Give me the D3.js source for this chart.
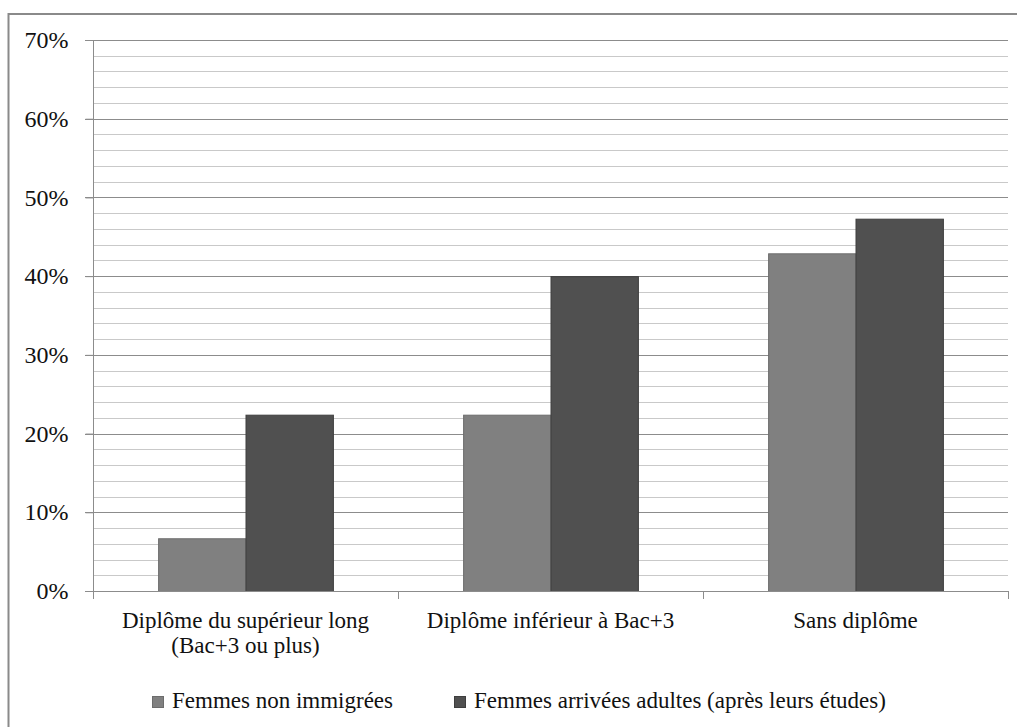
<!DOCTYPE html>
<html>
<head>
<meta charset="utf-8">
<script src="https://cdn.jsdelivr.net/npm/d3@7"></script>
</head>
<body style="margin:0">
<script>
// data
const categories = [
  ['Diplôme du supérieur long', '(Bac+3 ou plus)'],
  ['Diplôme inférieur à Bac+3'],
  ['Sans diplôme']
]
const seriesNames = ['Femmes non immigrées', 'Femmes arrivées adultes (après leurs études)']
const nonImmigrees = [6.7, 22.4, 42.9]
const arriveesAdultes = [22.4, 40.0, 47.3]
const yTicks = [0, 10, 20, 30, 40, 50, 60, 70]

// dimensions
const width = 1017
const height = 727
const plotLeft = 93
const plotRight = 1008
const plotTop = 40
const plotBottom = 591
const serifFont = '"Liberation Serif"'
const textColor = '#111'

const colors = ['#808080', '#505050']
const strokes = ['#6c6c6c', '#3e3e3e']

const svg = d3.select('body').append('svg')
  .attr('width', width)
  .attr('height', height)

// outer frame (runs off the right and bottom edges)
svg.append('rect')
  .attr('x', 8.5).attr('y', 14)
  .attr('width', 1040).attr('height', 740)
  .attr('fill', 'none')
  .attr('stroke', '#8a8a8a')
  .attr('stroke-width', 2)

// scales
const x0 = d3.scaleBand()
  .domain(d3.range(categories.length))
  .range([plotLeft, plotRight])
  .padding(0)

const x1 = d3.scaleBand()
  .domain(d3.range(seriesNames.length))
  .range([0, x0.bandwidth()])
  .paddingInner(0)
  .paddingOuter(0.745)

const y = d3.scaleLinear()
  .domain([0, 70])
  .range([plotBottom, plotTop])

// gridlines, minor then major
const minor = d3.range(2, 70, 2).filter(v => v % 10 !== 0)
svg.append('g').selectAll('line')
  .data(minor)
  .join('line')
  .attr('x1', plotLeft).attr('x2', plotRight)
  .attr('y1', d => Math.round(y(d)) + 0.5)
  .attr('y2', d => Math.round(y(d)) + 0.5)
  .attr('stroke', '#c9c9c9')

svg.append('g').selectAll('line')
  .data(yTicks.filter(d => d > 0))
  .join('line')
  .attr('x1', plotLeft - 8).attr('x2', plotRight)
  .attr('y1', d => Math.round(y(d)) + 0.5)
  .attr('y2', d => Math.round(y(d)) + 0.5)
  .attr('stroke', '#8c8c8c')

// bars
const rows = categories.map((c, i) => [nonImmigrees[i], arriveesAdultes[i]])

const groups = svg.append('g').selectAll('g')
  .data(rows)
  .join('g')
  .attr('transform', (d, i) => `translate(${x0(i)},0)`)

groups.selectAll('rect')
  .data(d => d)
  .join('rect')
  .attr('x', (d, j) => x1(j) + 0.5)
  .attr('y', d => y(d) + 0.5)
  .attr('width', x1.bandwidth())
  .attr('height', d => plotBottom - y(d))
  .attr('fill', (d, j) => colors[j])
  .attr('stroke', (d, j) => strokes[j])
  .attr('stroke-width', 1)

// axes
const yAxis = svg.append('g')
  .attr('transform', `translate(${plotLeft + 0.5},0)`)
  .call(d3.axisLeft(y).tickValues(yTicks).tickSize(8).tickPadding(17).tickFormat(d => d + '%'))
yAxis.attr('font-family', null)
yAxis.select('.domain').attr('stroke', '#8c8c8c').attr('d', `M0,${plotTop}V${plotBottom + 8}`)
yAxis.selectAll('.tick line').attr('stroke', '#8c8c8c')
yAxis.selectAll('.tick text')
  .style('font-family', serifFont)
  .style('font-size', '24px')
  .attr('fill', textColor)

const xTicks = d3.range(categories.length + 1).map(i => plotLeft + i * x0.step())
const xAxis = svg.append('g')
xAxis.append('line')
  .attr('x1', plotLeft - 8).attr('x2', plotRight)
  .attr('y1', plotBottom + 0.5).attr('y2', plotBottom + 0.5)
  .attr('stroke', '#8c8c8c')
xAxis.selectAll('.xtick')
  .data(xTicks)
  .join('line')
  .attr('class', 'xtick')
  .attr('x1', d => Math.round(d) + 0.5).attr('x2', d => Math.round(d) + 0.5)
  .attr('y1', plotBottom).attr('y2', plotBottom + 8)
  .attr('stroke', '#8c8c8c')

// category labels, one text per line
const catLines = categories.flatMap((c, i) => c.map((t, k) => ({ t, i, k })))
svg.append('g').selectAll('text')
  .data(catLines)
  .join('text')
  .attr('text-anchor', 'middle')
  .attr('x', d => x0(d.i) + x0.bandwidth() / 2)
  .attr('y', d => 628 + d.k * 25)
  .style('font-family', serifFont)
  .style('font-size', '23px')
  .attr('fill', textColor)
  .text(d => d.t)

// legend
const legendX = [152, 454]
const legend = svg.append('g').selectAll('g')
  .data(seriesNames)
  .join('g')
  .attr('transform', (d, i) => `translate(${legendX[i]},696)`)

legend.append('rect')
  .attr('x', 0.5).attr('y', 0.5)
  .attr('width', 11).attr('height', 11)
  .attr('fill', (d, i) => colors[i])
  .attr('stroke', (d, i) => strokes[i])

legend.append('text')
  .attr('x', 20)
  .attr('y', 12)
  .style('font-family', serifFont)
  .style('font-size', '23px')
  .attr('fill', textColor)
  .text(d => d)
</script>
</body>
</html>
